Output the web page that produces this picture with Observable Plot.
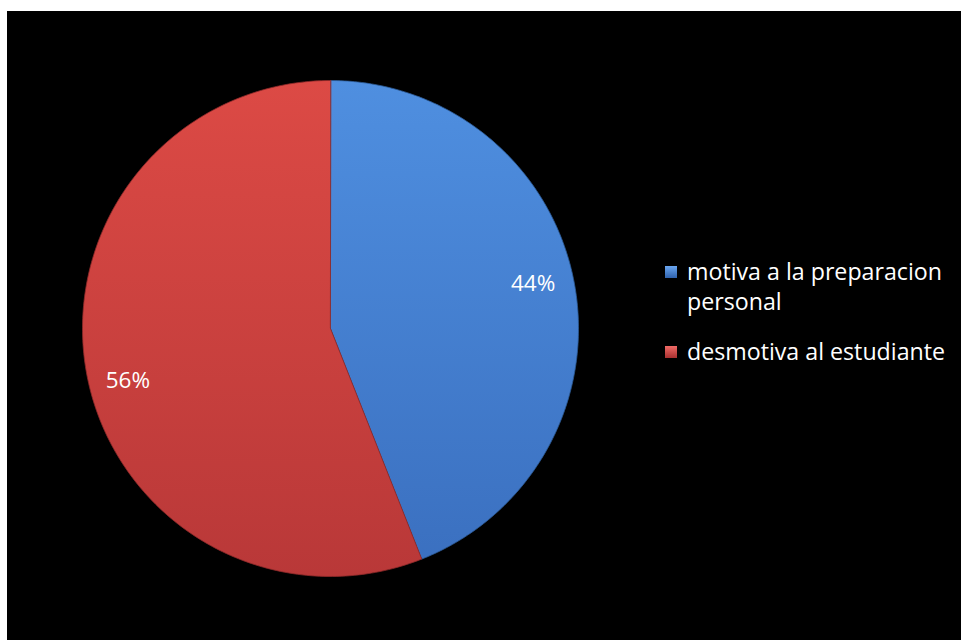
<!DOCTYPE html>
<html>
<head>
<meta charset="utf-8">
<script src="https://cdn.jsdelivr.net/npm/d3@7"></script>
<script src="https://cdn.jsdelivr.net/npm/@observablehq/plot@0.6"></script>
<style>
  html, body { margin: 0; padding: 0; background: #ffffff; }
  #wrap { position: absolute; left: 7px; top: 11px; width: 954px; height: 629px; background: #000; overflow: hidden; }
  #legend { position: absolute; left: 658px; top: 245px; font-family: "Open Sans", Lato, sans-serif; font-size: 23.2px; color: #fff; line-height: 30px; }
  .item { position: relative; padding-left: 22px; margin-bottom: 20px; width: 285px; }
  .sw { position: absolute; left: 0; top: 10px; width: 12px; height: 12px; }
</style>
</head>
<body>
<div id="wrap"><div id="chart"></div><div id="legend"></div></div>
<script>
const categories = ["motiva a la preparacion personal", "desmotiva al estudiante"];
const values = [44, 56];
const labelTexts = ["44%", "56%"];

const data = categories.map((c, i) => ({category: c, value: values[i], label: labelTexts[i]}));
const arcs = d3.pie().sort(null).value(d => d.value)(data);

// polygon points along each slice outline (unit circle, y up)
const pts = [];
arcs.forEach((a, i) => {
  pts.push({k: i, x: 0, y: 0});
  const n = 200;
  for (let j = 0; j <= n; j++) {
    const t = a.startAngle + (a.endAngle - a.startAngle) * j / n;
    pts.push({k: i, x: Math.sin(t), y: Math.cos(t)});
  }
});
const mids = arcs.map(a => {
  const m = (a.startAngle + a.endAngle) / 2 - 0.045;
  return {x: 0.84 * Math.sin(m), y: 0.84 * Math.cos(m) - 0.015, label: a.data.label};
});

const fills = ["url(#gBlue)", "url(#gRed)"];
const strokes = ["#2c5a96", "#8e2a2a"];

const chart = Plot.plot({
  width: 954,
  height: 629,
  margin: 0,
  style: {background: "black"},
  x: {domain: [-1, 1], range: [75, 571], axis: null},
  y: {domain: [-1, 1], range: [565, 69], axis: null},
  marks: [
    ...arcs.map((a, i) => Plot.line(pts.filter(p => p.k === i), {
      x: "x", y: "y", fill: fills[i], stroke: strokes[i], strokeWidth: 0.8, curve: "linear-closed"
    })),
    Plot.text(mids, {x: "x", y: "y", text: "label", fill: "white", fontSize: 22.5, fontFamily: "'Open Sans', Lato, sans-serif"})
  ]
});

const svg = d3.select(chart);
const defs = svg.insert("defs", ":first-child");
const gb = defs.append("linearGradient").attr("id", "gBlue").attr("gradientUnits", "userSpaceOnUse")
  .attr("x1", 0).attr("y1", 69).attr("x2", 0).attr("y2", 565);
gb.append("stop").attr("offset", "0%").attr("stop-color", "#4f8fe0");
gb.append("stop").attr("offset", "100%").attr("stop-color", "#3a6fbf");
const gr = defs.append("linearGradient").attr("id", "gRed").attr("gradientUnits", "userSpaceOnUse")
  .attr("x1", 0).attr("y1", 69).attr("x2", 0).attr("y2", 565);
gr.append("stop").attr("offset", "0%").attr("stop-color", "#dc4a45");
gr.append("stop").attr("offset", "100%").attr("stop-color", "#b93838");

document.getElementById("chart").appendChild(chart);

const legend = d3.select("#legend");
const swGrad = [["#6aa6f0", "#2f62ad"], ["#f06a66", "#a83030"]];
categories.forEach((c, i) => {
  const it = legend.append("div").attr("class", "item");
  it.append("div").attr("class", "sw")
    .style("background", `linear-gradient(${swGrad[i][0]}, ${swGrad[i][1]})`);
  it.append("span").text(c);
});
</script>
</body>
</html>
